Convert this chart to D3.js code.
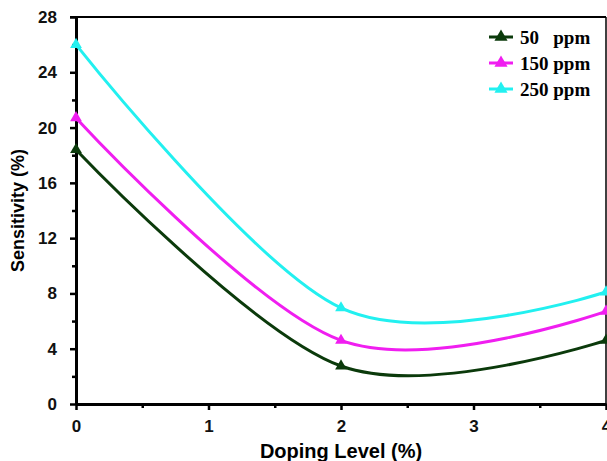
<!DOCTYPE html>
<meta charset="utf-8">
<style>
  body { margin: 0; background: #fff; }
  .tick text { font-family: "Liberation Sans", Arial, sans-serif; font-weight: bold; font-size: 17px; fill: #111; }
</style>
<body>
<div id="chart"></div>
<script src="https://d3js.org/d3.v7.min.js"></script>
<script>

// data
const doping = [0, 2, 4];
const ppm50 = [18.4, 2.75, 4.6];
const ppm150 = [20.7, 4.6, 6.7];
const ppm250 = [26.0, 6.95, 8.1];
const seriesNames = ["50   ppm", "150 ppm", "250 ppm"];
const seriesColors = ["#0b3a0b", "#f01ef0", "#22f0f0"];
const xTicks = [0, 1, 2, 3, 4];
const yTicks = [0, 4, 8, 12, 16, 20, 24, 28];

const margin = {top: 17, right: 1, bottom: 57, left: 76},
    width = 607 - margin.left - margin.right,
    height = 461 - margin.top - margin.bottom;

const svg = d3.select("#chart")
  .append("svg")
    .attr("width", 607)
    .attr("height", 461)
  .append("g")
    .attr("transform", `translate(${margin.left}, ${margin.top})`);

const x = d3.scaleLinear().domain([0, 4]).range([0, 530]);
const y = d3.scaleLinear().domain([0, 28]).range([height, 0]);

// box top / right
svg.append("line")
  .attr("x1", -6).attr("x2", x(4))
  .attr("y1", y(28)).attr("y2", y(28))
  .attr("stroke", "#000").attr("stroke-width", 2);
svg.append("line")
  .attr("x1", x(4)).attr("x2", x(4))
  .attr("y1", y(28)).attr("y2", y(0))
  .attr("stroke", "#000").attr("stroke-width", 1.5);

// minor ticks
svg.append("g")
  .attr("transform", `translate(0, ${height})`)
  .call(d3.axisBottom(x).tickValues(d3.range(0.5, 4, 1)).tickSize(4).tickFormat(""))
  .call(g => g.select(".domain").remove())
  .selectAll("line").attr("stroke-width", 2.5);
svg.append("g")
  .call(d3.axisLeft(y).tickValues(d3.range(2, 28, 4)).tickSize(4).tickFormat(""))
  .call(g => g.select(".domain").remove())
  .selectAll("line").attr("stroke-width", 2.5);

// main axes
const xAxis = svg.append("g")
  .attr("transform", `translate(0, ${height})`)
  .call(d3.axisBottom(x).tickValues(xTicks).tickFormat(d3.format("d"))
    .tickSize(6).tickPadding(10).tickSizeOuter(0));
const yAxis = svg.append("g")
  .call(d3.axisLeft(y).tickValues(yTicks).tickSize(6).tickPadding(13).tickSizeOuter(0));
[xAxis, yAxis].forEach(a => {
  a.select(".domain").attr("stroke-width", 3);
  a.selectAll(".tick line").attr("stroke-width", 2.5);
});

svg.append("text")
  .attr("x", x(2))
  .attr("y", 441)
  .attr("text-anchor", "middle")
  .style("font-family", "Liberation Sans, Arial, sans-serif")
  .style("font-weight", "bold")
  .style("font-size", "20px")
  .text("Doping Level (%)");

svg.append("text")
  .attr("transform", `translate(-52, ${height / 2}) rotate(-90)`)
  .attr("text-anchor", "middle")
  .style("font-family", "Liberation Sans, Arial, sans-serif")
  .style("font-weight", "bold")
  .style("font-size", "18px")
  .text("Sensitivity (%)");

// lines
const allSeries = [ppm50, ppm150, ppm250];
const line = d3.line()
  .x(d => x(d[0]))
  .y(d => y(d[1]))
  .curve(d3.curveCardinal.tension(0));
const tri = d3.symbol().type(d3.symbolTriangle).size(60);
const legTri = d3.symbol().type(d3.symbolTriangle).size(75);

allSeries.forEach((vals, i) => {
  const pts = doping.map((d, j) => [d, vals[j]]);
  svg.append("path")
    .datum(pts)
    .attr("d", line)
    .attr("fill", "none")
    .attr("stroke", seriesColors[i])
    .attr("stroke-width", 3);
  svg.selectAll(".m" + i)
    .data(pts)
    .enter()
    .append("path")
      .attr("d", tri)
      .attr("transform", d => `translate(${x(d[0])}, ${y(d[1])})`)
      .attr("fill", seriesColors[i]);
});

// legend
const legend = svg.append("g").attr("transform", "translate(412, 20)");
seriesNames.forEach((name, i) => {
  const g = legend.append("g").attr("transform", `translate(0, ${i * 26})`);
  g.append("line")
    .attr("x1", 1).attr("x2", 25)
    .attr("stroke", seriesColors[i]).attr("stroke-width", 3);
  g.append("path").attr("d", legTri).attr("transform", "translate(13, 0)").attr("fill", seriesColors[i]);
  g.append("text")
    .attr("x", 32)
    .attr("y", 6.5)
    .attr("xml:space", "preserve")
    .style("white-space", "pre")
    .style("font-family", "Liberation Serif, Times New Roman, serif")
    .style("font-weight", "bold")
    .style("font-size", "19px")
    .text(name);
});

</script>
</body>
